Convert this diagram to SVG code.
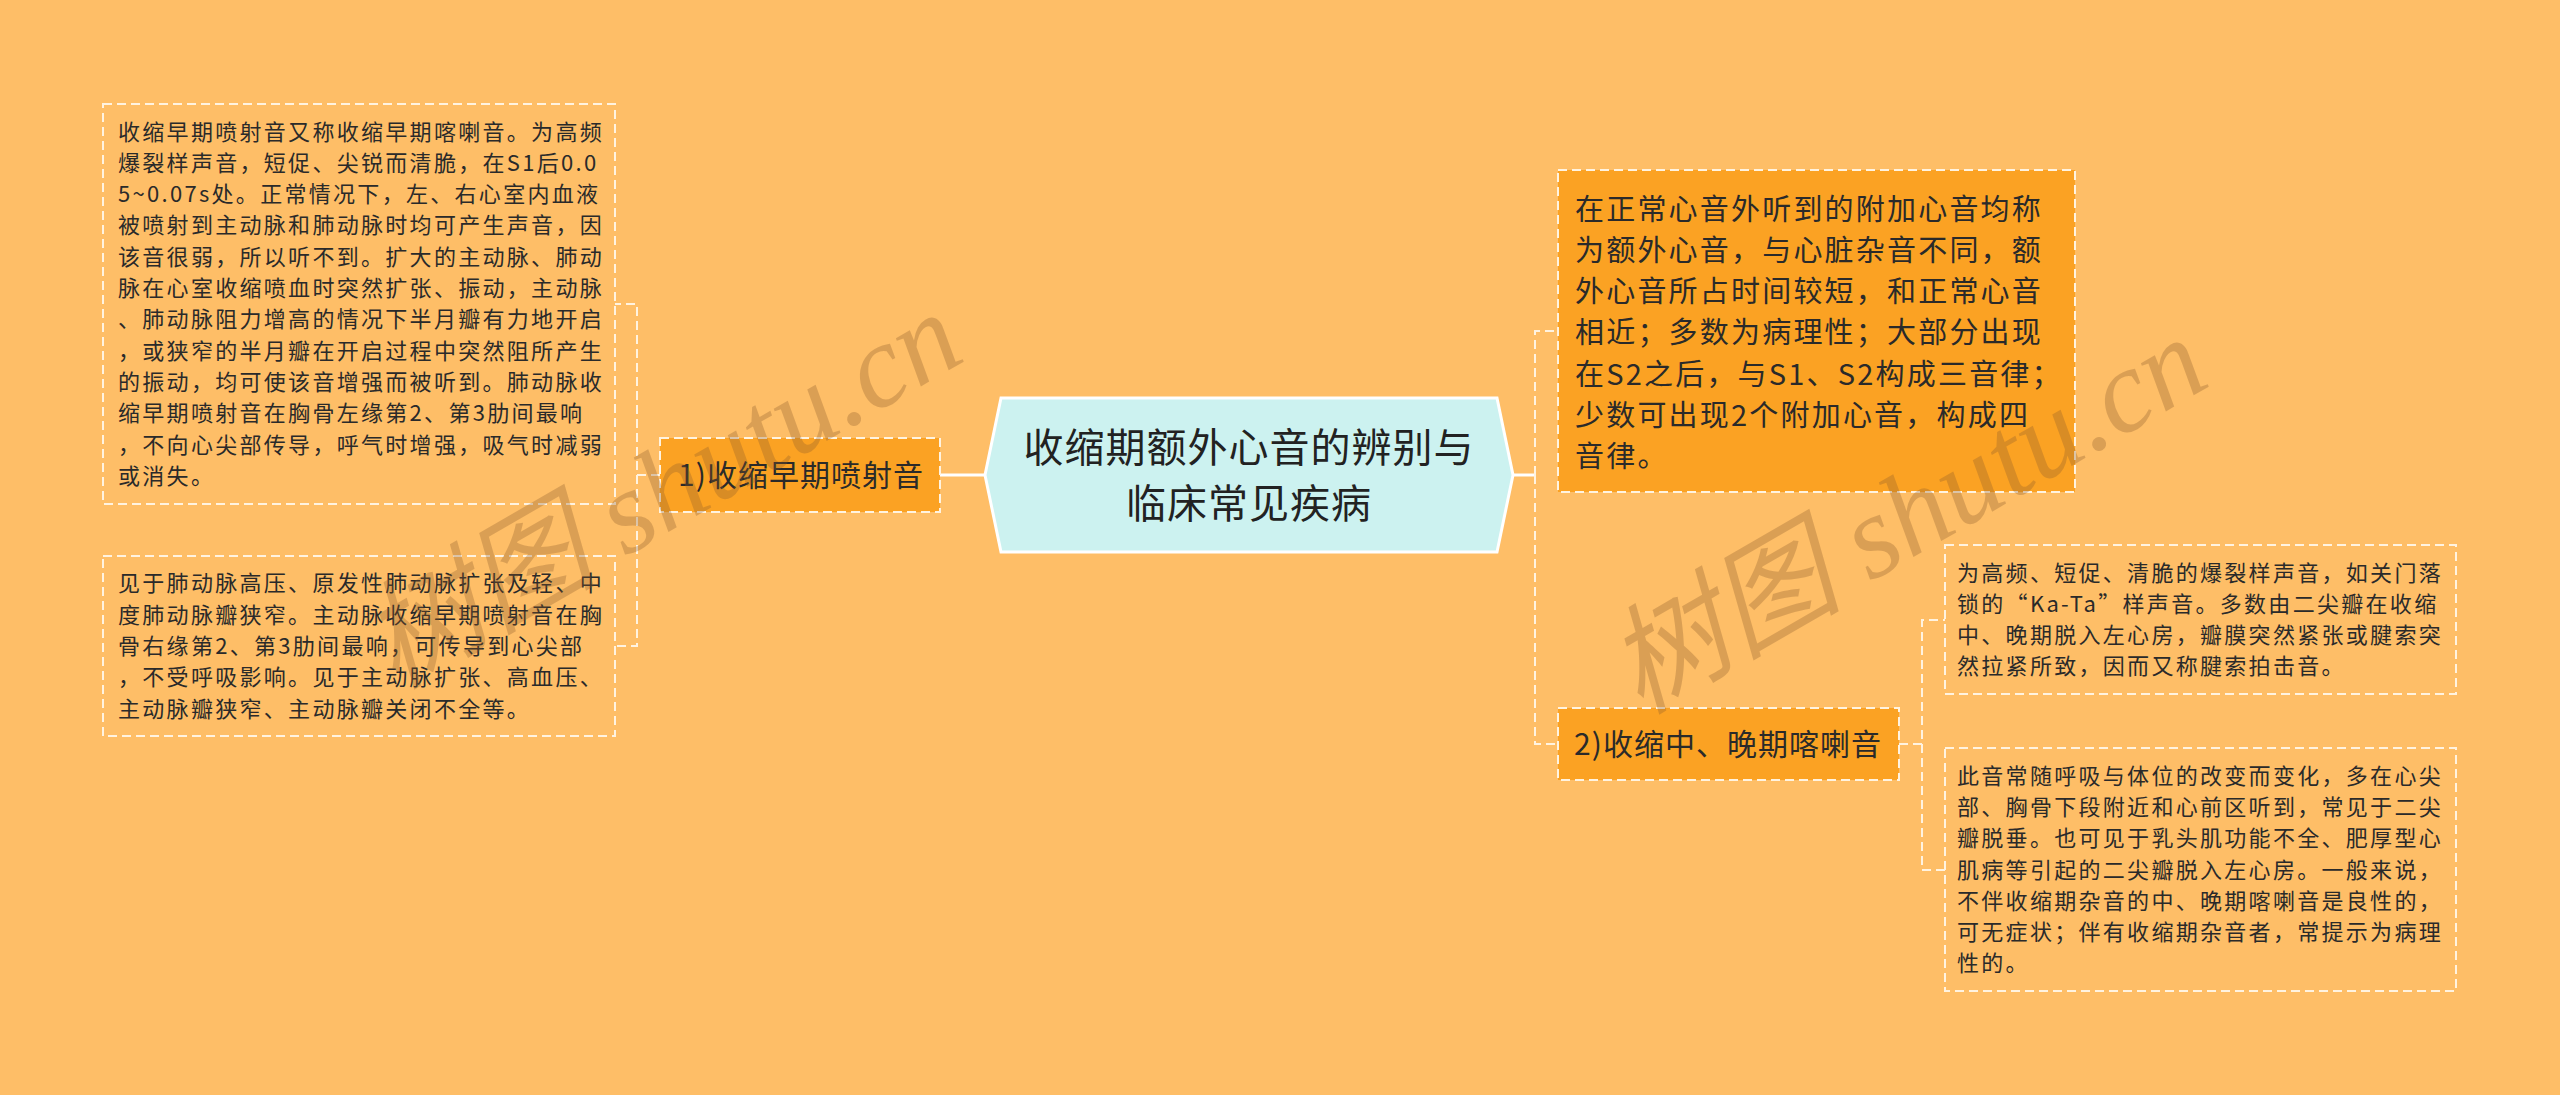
<svg xmlns="http://www.w3.org/2000/svg" width="2560" height="1095" viewBox="0 0 2560 1095">
<style>
.bg{fill:#FEBE67}
.leaf{fill:none;stroke:#FFF3E0;stroke-width:2;stroke-dasharray:9 5}
.sub{fill:#FBA223;stroke:#FFF3E0;stroke-width:2;stroke-dasharray:9 5}
.t{font-family:"Noto Sans CJK SC","Noto Sans",sans-serif;fill:#2a2a2a}
.s{font-size:22px;letter-spacing:2.3px}
.m{font-size:29px;letter-spacing:2.2px}
.l{font-size:30px;letter-spacing:1px}
.c{font-size:40px;letter-spacing:1px;fill:#222}
.wm{font-family:"Liberation Serif","Noto Sans CJK SC",serif;font-style:italic;font-size:118px;fill:#8B5A2B;opacity:0.3}
.dash{fill:none;stroke:#FFF3E0;stroke-width:2;stroke-dasharray:9 5}
.solid{fill:none;stroke:#FFFFFF;stroke-width:3}
</style>
<rect class="bg" x="0" y="0" width="2560" height="1095"/>

<g id="connectors">
<path class="solid" d="M940,475 H985"/>
<path class="solid" d="M1513,475 H1535"/>
<path class="dash" d="M660,475 H637 V304 H615"/>
<path class="dash" d="M637,475 V646 H615"/>
<path class="dash" d="M1535,475 V331 H1558"/>
<path class="dash" d="M1535,475 V744 H1558"/>
<path class="dash" d="M1899,744 H1922 V620 H1945"/>
<path class="dash" d="M1922,744 V870 H1945"/>
</g>

<g id="center">
<polygon points="985,475 1001,398 1497,398 1513,475 1497,552 1001,552" fill="#CCF2F0" stroke="#FFFFFF" stroke-width="3"/>
<text class="t c" x="1249" y="462" text-anchor="middle">收缩期额外心音的辨别与</text>
<text class="t c" x="1249" y="518" text-anchor="middle">临床常见疾病</text>
</g>

<g id="n1">
<rect class="sub" x="660" y="438" width="280" height="74"/>
<text class="t l" x="801" y="486" text-anchor="middle">1)收缩早期喷射音</text>
</g>

<g id="leaf1">
<rect class="leaf" x="103" y="104" width="512" height="400"/>
<text class="t s" x="118">
<tspan x="118" y="139.5">收缩早期喷射音又称收缩早期喀喇音。为高频</tspan>
<tspan x="118" y="170.8">爆裂样声音，短促、尖锐而清脆，在S1后0.0</tspan>
<tspan x="118" y="202.1">5~0.07s处。正常情况下，左、右心室内血液</tspan>
<tspan x="118" y="233.4">被喷射到主动脉和肺动脉时均可产生声音，因</tspan>
<tspan x="118" y="264.7">该音很弱，所以听不到。扩大的主动脉、肺动</tspan>
<tspan x="118" y="296.0">脉在心室收缩喷血时突然扩张、振动，主动脉</tspan>
<tspan x="118" y="327.3">、肺动脉阻力增高的情况下半月瓣有力地开启</tspan>
<tspan x="118" y="358.6">，或狭窄的半月瓣在开启过程中突然阻所产生</tspan>
<tspan x="118" y="389.9">的振动，均可使该音增强而被听到。肺动脉收</tspan>
<tspan x="118" y="421.2">缩早期喷射音在胸骨左缘第2、第3肋间最响</tspan>
<tspan x="118" y="452.5">，不向心尖部传导，呼气时增强，吸气时减弱</tspan>
<tspan x="118" y="483.8">或消失。</tspan>
</text>
</g>

<g id="leaf2">
<rect class="leaf" x="103" y="556" width="512" height="180"/>
<text class="t s">
<tspan x="118" y="591.4">见于肺动脉高压、原发性肺动脉扩张及轻、中</tspan>
<tspan x="118" y="622.7">度肺动脉瓣狭窄。主动脉收缩早期喷射音在胸</tspan>
<tspan x="118" y="654.0">骨右缘第2、第3肋间最响，可传导到心尖部</tspan>
<tspan x="118" y="685.3">，不受呼吸影响。见于主动脉扩张、高血压、</tspan>
<tspan x="118" y="716.6">主动脉瓣狭窄、主动脉瓣关闭不全等。</tspan>
</text>
</g>

<g id="n0">
<rect class="sub" x="1558" y="170" width="517" height="322"/>
<text class="t m">
<tspan x="1575" y="219.5">在正常心音外听到的附加心音均称</tspan>
<tspan x="1575" y="260.8">为额外心音，与心脏杂音不同，额</tspan>
<tspan x="1575" y="302.1">外心音所占时间较短，和正常心音</tspan>
<tspan x="1575" y="343.4">相近；多数为病理性；大部分出现</tspan>
<tspan x="1575" y="384.7">在S2之后，与S1、S2构成三音律；</tspan>
<tspan x="1575" y="426.0">少数可出现2个附加心音，构成四</tspan>
<tspan x="1575" y="467.3">音律。</tspan>
</text>
</g>

<g id="n2">
<rect class="sub" x="1558" y="708" width="341" height="72"/>
<text class="t l" x="1728" y="755" text-anchor="middle">2)收缩中、晚期喀喇音</text>
</g>

<g id="leaf3">
<rect class="leaf" x="1945" y="545" width="511" height="149"/>
<text class="t s">
<tspan x="1957" y="580.5">为高频、短促、清脆的爆裂样声音，如关门落</tspan>
<tspan x="1957" y="611.8">锁的“Ka-Ta”样声音。多数由二尖瓣在收缩</tspan>
<tspan x="1957" y="643.1">中、晚期脱入左心房，瓣膜突然紧张或腱索突</tspan>
<tspan x="1957" y="674.4">然拉紧所致，因而又称腱索拍击音。</tspan>
</text>
</g>

<g id="leaf4">
<rect class="leaf" x="1945" y="748" width="511" height="243"/>
<text class="t s">
<tspan x="1957" y="783.6">此音常随呼吸与体位的改变而变化，多在心尖</tspan>
<tspan x="1957" y="814.9">部、胸骨下段附近和心前区听到，常见于二尖</tspan>
<tspan x="1957" y="846.2">瓣脱垂。也可见于乳头肌功能不全、肥厚型心</tspan>
<tspan x="1957" y="877.5">肌病等引起的二尖瓣脱入左心房。一般来说，</tspan>
<tspan x="1957" y="908.8">不伴收缩期杂音的中、晚期喀喇音是良性的，</tspan>
<tspan x="1957" y="940.1">可无症状；伴有收缩期杂音者，常提示为病理</tspan>
<tspan x="1957" y="971.4">性的。</tspan>
</text>
</g>

<g id="watermarks">
<text class="wm" transform="translate(395,690) rotate(-30)">树图 shutu.cn</text>
<text class="wm" transform="translate(1640,715) rotate(-30)">树图 shutu.cn</text>
</g>
</svg>
